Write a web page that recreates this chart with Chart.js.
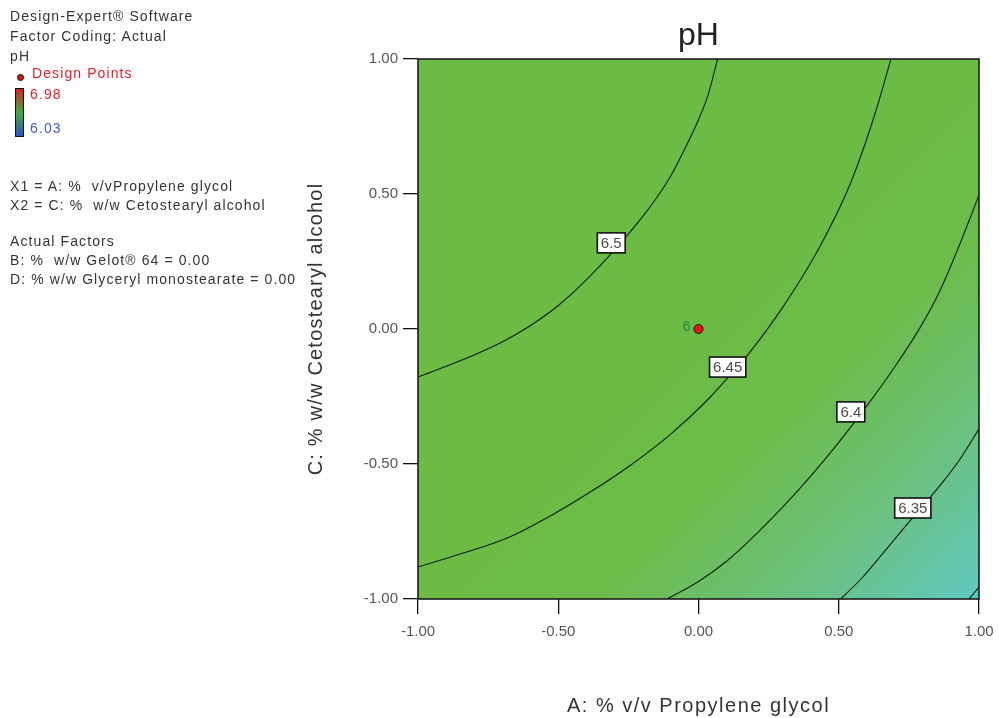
<!DOCTYPE html>
<html>
<head>
<meta charset="utf-8">
<script src="https://cdn.jsdelivr.net/npm/chart.js@4/dist/chart.umd.min.js"></script>
<style>
  body { margin: 0; background: #fff; }
  #wrap { position: relative; width: 999px; height: 718px; }
  #myChart { position: absolute; left: 0; top: 0; }
  .info { position: absolute; left: 10px; font: 14px "Liberation Sans", Arial, sans-serif; letter-spacing: 1.1px; color: #333; white-space: pre; line-height: 16px; }
  .red { color: #e8202a; }
  .blue { color: #4a5cc4; }
  #bar { position: absolute; left: 15px; top: 88px; width: 7px; height: 47px; border: 1px solid #111;
         background: linear-gradient(#e0201c, #3fae3a 50%, #2a52c8); }
  #dot { position: absolute; left: 17px; top: 74px; width: 5px; height: 5px; border-radius: 50%; background: #e01010; border: 1px solid #111; }
</style>
</head>
<body>
<div id="wrap">
  <canvas id="myChart" width="999" height="718"></canvas>
  <div class="info" style="top:8px">Design-Expert® Software</div>
  <div class="info" style="top:28px">Factor Coding: Actual</div>
  <div class="info" style="top:48px">pH</div>
  <div id="dot"></div>
  <div class="info red" style="top:65px;left:32px">Design Points</div>
  <div id="bar"></div>
  <div class="info red" style="top:86px;left:30px">6.98</div>
  <div class="info blue" style="top:120px;left:30px">6.03</div>
  <div class="info" style="top:178px">X1 = A: %  v/vPropylene glycol</div>
  <div class="info" style="top:197px">X2 = C: %  w/w Cetostearyl alcohol</div>
  <div class="info" style="top:233px">Actual Factors</div>
  <div class="info" style="top:252px">B: %  w/w Gelot® 64 = 0.00</div>
  <div class="info" style="top:271px">D: % w/w Glyceryl monostearate = 0.00</div>
</div>
<script>
// contour levels and the points
const levels = ["6.5", "6.45", "6.4", "6.35", "6.3"]

const line65 = [[-1, -0.178], [-0.85, -0.118], [-0.7, -0.048], [-0.6, 0.012], [-0.5, 0.087],
  [-0.4, 0.182], [-0.3, 0.292], [-0.2, 0.415], [-0.15, 0.485], [-0.1, 0.565], [-0.05, 0.665],
  [0, 0.775], [0.035, 0.87], [0.068, 1]]
const line645 = [[-1, -0.881], [-0.861, -0.837], [-0.682, -0.774], [-0.504, -0.678], [-0.386, -0.604],
  [-0.25, -0.51], [-0.1, -0.39], [0.032, -0.263], [0.104, -0.181], [0.18, -0.09],
  [0.3, 0.08], [0.43, 0.3], [0.54, 0.535], [0.63, 0.8], [0.686, 1]]
const line64 = [[-0.111, -1], [0, -0.935], [0.1, -0.86], [0.2, -0.765], [0.3, -0.66],
  [0.4, -0.545], [0.5, -0.42], [0.6, -0.285], [0.7, -0.14], [0.79, 0.005],
  [0.86, 0.14], [0.93, 0.31], [1, 0.496]]
const line635 = [[0.507, -1], [0.58, -0.925], [0.65, -0.84], [0.73, -0.74], [0.8, -0.655],
  [0.87, -0.568], [0.93, -0.485], [1, -0.37]]
const line63 = [[0.964, -1], [1, -0.956]]

// where the level labels sit on the lines
const labelX = [-0.311, 0.104, 0.543, 0.764]
const labelY = [0.319, -0.141, -0.307, -0.663]

const designX = [0]
const designY = [0]
const designCount = ["6"]

const tickValues = [-1, -0.5, 0, 0.5, 1]

const font = '"Liberation Sans", Arial, sans-serif'

function toPts(arr) {
  return arr.map(p => ({x: p[0], y: p[1]}))
}

function lineSet(arr) {
  return {
    type: 'scatter',
    data: toPts(arr),
    showLine: true,
    borderColor: '#0c1e0c',
    borderWidth: 1.1,
    pointRadius: 0,
    cubicInterpolationMode: 'monotone',
    fill: false
  }
}

const extras = {
  id: 'extras',
  beforeDatasetsDraw(chart) {
    const {ctx, chartArea: a, scales} = chart
    const g = ctx.createLinearGradient(scales.x.getPixelForValue(0), scales.y.getPixelForValue(0.1),
      a.right, a.bottom)
    g.addColorStop(0, '#6bbb44')
    g.addColorStop(0.35, '#6cbc4a')
    g.addColorStop(0.65, '#6cc07a')
    g.addColorStop(1, '#60c8c0')
    ctx.save()
    ctx.fillStyle = g
    ctx.fillRect(a.left, a.top, a.right - a.left, a.bottom - a.top)
    ctx.restore()
  },
  afterDatasetsDraw(chart) {
    const {ctx, chartArea: a, scales} = chart
    ctx.save()
    // level labels
    ctx.font = '15px ' + font
    ctx.textAlign = 'center'
    ctx.textBaseline = 'middle'
    labelX.forEach((lx, i) => {
      const px = scales.x.getPixelForValue(lx)
      const py = scales.y.getPixelForValue(labelY[i])
      const w = ctx.measureText(levels[i]).width + 7
      const h = 20
      ctx.fillStyle = '#fff'
      ctx.fillRect(px - w / 2, py - h / 2, w, h)
      ctx.strokeStyle = '#111'
      ctx.lineWidth = 1.6
      ctx.strokeRect(px - w / 2, py - h / 2, w, h)
      ctx.fillStyle = '#4a4a4a'
      ctx.fillText(levels[i], px, py + 1)
    })
    // count next to design point
    ctx.font = '14px ' + font
    ctx.fillStyle = '#1c8a48'
    ctx.textAlign = 'right'
    designX.forEach((dx, i) => {
      ctx.fillText(designCount[i], scales.x.getPixelForValue(dx) - 8, scales.y.getPixelForValue(designY[i]) - 2)
    })
    // plot border
    ctx.strokeStyle = '#111'
    ctx.lineWidth = 1.5
    ctx.strokeRect(a.left, a.top, a.right - a.left, a.bottom - a.top)
    // titles
    ctx.fillStyle = '#222'
    ctx.textAlign = 'center'
    ctx.font = '32px ' + font
    ctx.fillText('pH', (a.left + a.right) / 2, 36)
    ctx.fillStyle = '#333'
    ctx.font = '20px ' + font
    ctx.letterSpacing = '1.5px'
    ctx.fillText('A: % v/v Propylene glycol', (a.left + a.right) / 2, 706)
    ctx.letterSpacing = '1.2px'
    ctx.translate(316, (a.top + a.bottom) / 2)
    ctx.rotate(-Math.PI / 2)
    ctx.fillText('C: % w/w Cetostearyl alcohol', 0, 0)
    ctx.restore()
  }
}

const data = {
  datasets: [
    {
      type: 'scatter',
      data: designX.map((x, i) => ({x: x, y: designY[i]})),
      pointRadius: 4.5,
      pointStyle: 'circle',
      backgroundColor: '#ee1414',
      borderColor: '#111',
      borderWidth: 1,
      order: 0
    },
    lineSet(line65), lineSet(line645), lineSet(line64), lineSet(line635), lineSet(line63)
  ]
}

const tickFont = {family: font, size: 15}

function noEdgePad(s) {
  s.paddingLeft = 0
  s.paddingRight = 0
  s.paddingTop = 0
  s.paddingBottom = 0
}

const config = {
  type: 'scatter',
  data: data,
  options: {
    responsive: false,
    animation: false,
    layout: {padding: {left: 358, top: 59, right: 20, bottom: 69}},
    plugins: {legend: {display: false}, tooltip: {enabled: false}},
    scales: {
      x: {
        min: -1, max: 1,
        afterFit: s => { s.height = 50; noEdgePad(s) },
        afterBuildTicks: s => { s.ticks = tickValues.map(v => ({value: v})) },
        grid: {drawOnChartArea: false, tickLength: 15, color: '#111', lineWidth: 1.3},
        border: {display: false},
        ticks: {padding: 9, color: '#555', font: tickFont, maxRotation: 0, callback: v => v.toFixed(2)}
      },
      y: {
        min: -1, max: 1,
        afterFit: s => { s.width = 60; noEdgePad(s) },
        afterBuildTicks: s => { s.ticks = tickValues.map(v => ({value: v})) },
        grid: {drawOnChartArea: false, tickLength: 15, color: '#111', lineWidth: 1.3},
        border: {display: false},
        ticks: {padding: 5, color: '#555', font: tickFont, callback: v => v.toFixed(2)}
      }
    }
  },
  plugins: [extras]
}

new Chart(document.getElementById('myChart'), config)
</script>
</body>
</html>
